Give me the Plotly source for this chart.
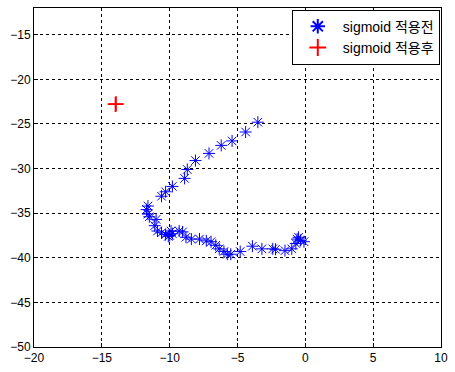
import plotly.graph_objects as go

before_x = [-3.5, -4.4, -5.4, -6.2, -7.1, -8.1, -8.7, -8.9, -9.8, -10.3, -10.6,
            -11.6, -11.7, -11.6, -11.5, -11.0, -11.1, -10.9, -10.6, -10.3, -10.0,
            -9.8, -10.1, -9.9, -9.3, -9.05, -8.8, -8.4, -7.8, -7.3, -6.95, -6.6,
            -6.35, -6.0, -5.75, -5.5, -4.8, -3.9, -3.2, -2.4, -2.2, -1.5, -1.0,
            -0.7, -0.6, -0.35, -0.1, -0.5]
before_y = [-24.8, -25.9, -26.9, -27.4, -28.3, -29.1, -30.1, -31.1, -32.0, -32.6, -33.1,
            -34.2, -34.6, -35.1, -35.4, -35.7, -36.4, -37.0, -37.2, -37.4, -37.5,
            -37.3, -37.6, -37.0, -37.0, -37.1, -37.7, -37.9, -37.9, -38.1, -38.2, -38.6,
            -39.0, -39.3, -39.6, -39.6, -39.3, -38.7, -39.0, -39.0, -39.05, -39.2, -39.0,
            -38.4, -37.9, -38.05, -38.2, -37.7]

after_x = [-14.0, -13.95]
after_y = [-22.8, -22.75]

x_ticks = [-20, -15, -10, -5, 0, 5, 10]
y_ticks = [-50, -45, -40, -35, -30, -25, -20, -15]

fig = go.Figure()
fig.add_trace(go.Scatter(x=before_x, y=before_y, mode="markers", name="sigmoid 적용전",
                         marker=dict(symbol="asterisk-open", size=10, color="#0000ff",
                                     line=dict(color="#0000ff", width=1))))
fig.add_trace(go.Scatter(x=after_x, y=after_y, mode="markers", name="sigmoid 적용후",
                         marker=dict(symbol="cross-thin-open", size=11, color="#ff0000",
                                     line=dict(color="#ff0000", width=1.5))))

axis_common = dict(showline=True, linecolor="black", linewidth=1, mirror=True,
                   showgrid=True, gridcolor="black", griddash="3px,3px", gridwidth=1,
                   zeroline=False, ticks="inside", ticklen=4, tickcolor="black",
                   tickfont=dict(family="Liberation Sans, Arial, sans-serif", size=12, color="black"))

fig.update_xaxes(range=[-20, 10], tickvals=x_ticks, **axis_common)
fig.update_yaxes(range=[-50, -12], tickvals=y_ticks, **axis_common)

fig.update_layout(
    width=455, height=372,
    margin=dict(l=34, r=11, t=7, b=22),
    paper_bgcolor="white", plot_bgcolor="white",
    font=dict(family="Liberation Sans, Noto Sans CJK KR, sans-serif", size=13, color="black"),
    showlegend=True,
    legend=dict(x=0.997, y=0.995, xanchor="right", yanchor="top",
                bgcolor="white", bordercolor="black", borderwidth=1,
                font=dict(family="Liberation Sans, Noto Sans CJK KR, sans-serif", size=14),
                itemsizing="constant", itemwidth=40, tracegroupgap=0),
)

fig.write_html("out.html")
